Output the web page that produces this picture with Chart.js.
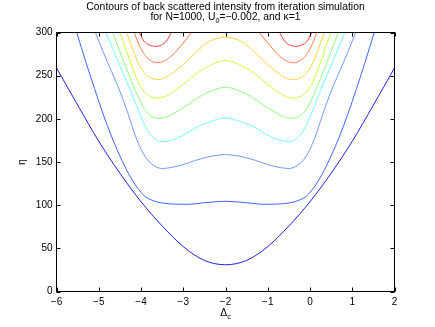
<!DOCTYPE html>
<html>
<head>
<meta charset="utf-8">
<script src="https://cdn.jsdelivr.net/npm/chart.js@4"></script>
<style>
html, body { margin: 0; padding: 0; background: #fff; }
</style>
</head>
<body>
<canvas id="contourChart" width="435" height="327"></canvas>
<script>
// contour data, one x / y pair per line piece
const c1X = [-6, -5.5, -5, -4.5, -4, -3.5, -3, -2.5, -2, -1.5, -1, -0.5, 0, 0.5, 1, 1.5, 2];
const c1Y = [259, 216, 174, 137, 104, 76, 52, 36, 31, 36, 52, 76, 104, 137, 174, 216, 259];

const c2X = [-5.52, -5.3, -5.1, -4.9, -4.7, -4.5, -4.3, -4.1, -3.9, -3.7, -3.5, -3.2, -2.9, -2.5, -2, -1.5, -1.1, -0.8, -0.5, -0.3, -0.1, 0.1, 0.3, 0.5, 0.7, 0.9, 1.1, 1.3, 1.52];
const c2Y = [300, 265, 235, 206, 180, 157, 137, 121, 110, 105, 102.5, 101.2, 101, 102.8, 104.5, 102.8, 101, 101.2, 102.5, 105, 110, 121, 137, 157, 180, 206, 235, 265, 300];

const c3X = [-5.08, -4.9, -4.7, -4.5, -4.3, -4.1, -3.9, -3.7, -3.5, -3.3, -3.0, -2.7, -2.4, -2, -1.6, -1.3, -1.0, -0.7, -0.5, -0.3, -0.1, 0.1, 0.3, 0.5, 0.7, 0.9, 1.08];
const c3Y = [300, 278, 255, 232, 205, 176, 156, 146, 142.5, 143.5, 147, 152, 156, 158.5, 156, 152, 147, 143.5, 142.5, 146, 156, 176, 205, 232, 255, 278, 300];

const c4X = [-4.83, -4.65, -4.45, -4.25, -4.05, -3.85, -3.65, -3.5, -3.3, -3.0, -2.7, -2.4, -2, -1.6, -1.3, -1.0, -0.7, -0.5, -0.35, -0.15, 0.05, 0.25, 0.45, 0.65, 0.83];
const c4Y = [300, 279, 256, 233, 208, 187, 176, 173.5, 175, 181, 190, 196, 201, 196, 190, 181, 175, 173.5, 176, 187, 208, 233, 256, 279, 300];

const c5X = [-4.67, -4.5, -4.3, -4.1, -3.9, -3.75, -3.6, -3.4, -3.2, -2.9, -2.6, -2.3, -2, -1.7, -1.4, -1.1, -0.8, -0.6, -0.4, -0.25, -0.1, 0.1, 0.3, 0.5, 0.67];
const c5Y = [300, 278, 253, 229, 210, 203, 200.6, 202, 207, 216, 226, 233, 236.6, 233, 226, 216, 207, 202, 200.6, 203, 210, 229, 253, 278, 300];

const c6X = [-4.5, -4.35, -4.2, -4.05, -3.9, -3.75, -3.62, -3.45, -3.25, -3.0, -2.7, -2.4, -2, -1.6, -1.3, -1.0, -0.75, -0.55, -0.38, -0.25, -0.1, 0.05, 0.2, 0.35, 0.5];
const c6Y = [300, 280, 259, 241, 230, 225.5, 224, 225.5, 231, 240, 252, 261, 267.5, 261, 252, 240, 231, 225.5, 224, 225.5, 230, 241, 259, 280, 300];

const c7X = [-4.34, -4.2, -4.05, -3.9, -3.75, -3.63, -3.45, -3.25, -3.0, -2.7, -2.4, -2, -1.6, -1.3, -1.0, -0.75, -0.55, -0.37, -0.25, -0.1, 0.05, 0.2, 0.34];
const c7Y = [300, 281, 263, 252, 247, 245.5, 247, 253, 263, 277, 289, 294.6, 289, 277, 263, 253, 247, 245.5, 247, 252, 263, 281, 300];

const c8LeftX = [-4.16, -4.05, -3.9, -3.75, -3.63, -3.45, -3.25, -3.05, -2.8];
const c8LeftY = [300, 286, 273, 267, 265, 267, 274, 285, 300];
const c8RightX = [-1.2, -0.95, -0.75, -0.55, -0.37, -0.25, -0.1, 0.05, 0.16];
const c8RightY = [300, 285, 274, 267, 265, 267, 273, 286, 300];

const c9LeftX = [-4.04, -3.93, -3.8, -3.66, -3.52, -3.4, -3.28];
const c9LeftY = [300, 290, 285.5, 284, 285.5, 290, 300];
const c9RightX = [-0.72, -0.6, -0.48, -0.34, -0.2, -0.07, 0.04];
const c9RightY = [300, 290, 285.5, 284, 285.5, 290, 300];

const xTicks = [-6, -5, -4, -3, -2, -1, 0, 1, 2];
const yTicks = [0, 50, 100, 150, 200, 250, 300];

const titleLine1 = 'Contours of back scattered intensity from iteration simulation';
const titleLine2 = ['for N=1000, U', '0', '=\u22120.002, and \u03ba=1'];
const xLabel = ['\u0394', 'c'];
const yLabel = '\u03b7';

const lineColors = ['#1f1fe6', '#3f63ff', '#6f98ff', '#70fff0', '#8cff7a', '#c6ff3c', '#ffd23c', '#ff7a4a', '#ff3c3c'];

function pts(xs, ys) {
    return xs.map((x, i) => ({ x: x, y: ys[i] }));
}

const pieces = [
    [c1X, c1Y, 0], [c2X, c2Y, 1], [c3X, c3Y, 2], [c4X, c4Y, 3], [c5X, c5Y, 4],
    [c6X, c6Y, 5], [c7X, c7Y, 6],
    [c8LeftX, c8LeftY, 7], [c8RightX, c8RightY, 7],
    [c9LeftX, c9LeftY, 8], [c9RightX, c9RightY, 8]
];

const FONT = '"Liberation Sans", Arial, Helvetica, sans-serif';

// box, inward ticks and the labels with subscripts
const frame = {
    id: 'frame',
    afterDraw(chart) {
        const ctx = chart.ctx;
        const a = chart.chartArea;
        const sx = chart.scales.x, sy = chart.scales.y;
        ctx.save();
        ctx.strokeStyle = '#000';
        ctx.lineWidth = 1;
        ctx.strokeRect(a.left, a.top, a.right - a.left, a.bottom - a.top);
        ctx.beginPath();
        xTicks.forEach(v => {
            const p = Math.round(sx.getPixelForValue(v)) + 0.5;
            ctx.moveTo(p, a.bottom); ctx.lineTo(p, a.bottom - 4);
            ctx.moveTo(p, a.top); ctx.lineTo(p, a.top + 4);
        });
        yTicks.forEach(v => {
            const p = Math.round(sy.getPixelForValue(v)) + 0.5;
            ctx.moveTo(a.left, p); ctx.lineTo(a.left + 4, p);
            ctx.moveTo(a.right, p); ctx.lineTo(a.right - 4, p);
        });
        ctx.stroke();

        const cx = (a.left + a.right) / 2;
        ctx.fillStyle = '#000';
        ctx.textBaseline = 'alphabetic';
        ctx.textAlign = 'left';
        const big = '10.4px ' + FONT, small = '7.2px ' + FONT;
        ctx.font = big;
        let w = ctx.measureText(titleLine1).width;
        ctx.fillText(titleLine1, cx - w / 2, 10);

        // second line: normal, subscript, normal
        ctx.font = big; const w0 = ctx.measureText(titleLine2[0]).width;
        ctx.font = small; const w1 = ctx.measureText(titleLine2[1]).width;
        ctx.font = big; const w2 = ctx.measureText(titleLine2[2]).width;
        let x0 = cx - (w0 + w1 + w2) / 2;
        ctx.fillText(titleLine2[0], x0, 20);
        ctx.font = small; ctx.fillText(titleLine2[1], x0 + w0, 23);
        ctx.font = big; ctx.fillText(titleLine2[2], x0 + w0 + w1, 20);

        // x label
        ctx.font = big; const d0 = ctx.measureText(xLabel[0]).width;
        ctx.font = small; const d1 = ctx.measureText(xLabel[1]).width;
        x0 = cx - (d0 + d1) / 2;
        ctx.font = big; ctx.fillText(xLabel[0], x0, 316);
        ctx.font = small; ctx.fillText(xLabel[1], x0 + d0, 319);

        // y label
        ctx.font = big;
        ctx.textAlign = 'center';
        ctx.save();
        ctx.translate(25, (a.top + a.bottom) / 2);
        ctx.rotate(-Math.PI / 2);
        ctx.fillText(yLabel, 0, 0);
        ctx.restore();
        ctx.restore();
    }
};

const tickFont = { family: FONT, size: 10 };

new Chart(document.getElementById('contourChart').getContext('2d'), {
    type: 'scatter',
    data: {
        datasets: pieces.map(p => ({
            data: pts(p[0], p[1]),
            showLine: true,
            borderColor: lineColors[p[2]],
            borderWidth: 1,
            pointRadius: 0,
            cubicInterpolationMode: 'monotone',
            fill: false
        }))
    },
    options: {
        responsive: false,
        animation: false,
        layout: { padding: { top: 32.5, right: 40.5, left: 0, bottom: 0 } },
        plugins: {
            legend: { display: false },
            tooltip: { enabled: false },
            title: { display: false }
        },
        scales: {
            x: {
                type: 'linear',
                min: -6,
                max: 2,
                afterBuildTicks: s => { s.ticks = xTicks.map(v => ({ value: v })); },
                ticks: { font: tickFont, color: '#000', padding: 5, callback: v => String(v).replace('-', '\u2212') },
                grid: { display: false, drawTicks: false },
                border: { display: false },
                afterFit: s => { s.height = 35.5; }
            },
            y: {
                type: 'linear',
                min: 0,
                max: 300,
                afterBuildTicks: s => { s.ticks = yTicks.map(v => ({ value: v })); },
                ticks: { font: tickFont, color: '#000', padding: 4 },
                grid: { display: false, drawTicks: false },
                border: { display: false },
                afterFit: s => { s.width = 56.5; }
            }
        }
    },
    plugins: [frame]
});
</script>
</body>
</html>
